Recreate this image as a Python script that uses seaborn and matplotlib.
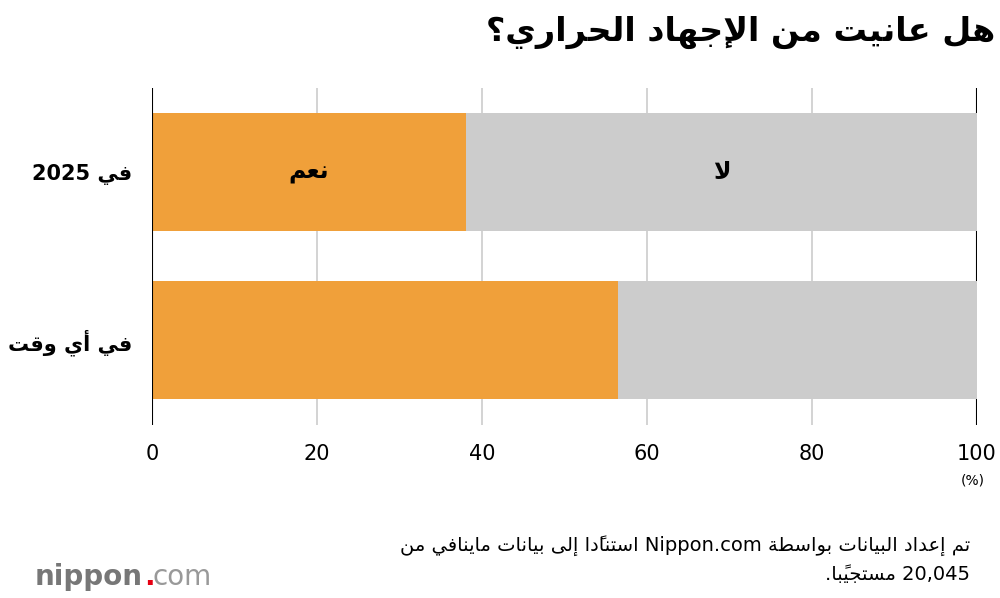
import re
import matplotlib
matplotlib.use("Agg")
import matplotlib.pyplot as plt
import seaborn as sns
import pandas as pd

# Data
categories = ["في 2025", "في أي وقت"]
yes_values = [38.1, 56.5]
title = "هل عانيت من الإجهاد الحراري؟"
yes_label = "نعم"
no_label = "لا"
note_lines = ["تم إعداد البيانات بواسطة Nippon.com استنادًا إلى بيانات ماينافي من",
              "20,045 مستجيبًا."]
xticks = [0, 20, 40, 60, 80, 100]

# --- minimal Arabic shaping + bidi (matplotlib has none) ---
FORMS = {  # isolated, final, initial, medial
    "ا": (0xFE8D, 0xFE8E, None, None), "أ": (0xFE83, 0xFE84, None, None),
    "إ": (0xFE87, 0xFE88, None, None), "آ": (0xFE81, 0xFE82, None, None),
    "ب": (0xFE8F, 0xFE90, 0xFE91, 0xFE92), "ة": (0xFE93, 0xFE94, None, None),
    "ت": (0xFE95, 0xFE96, 0xFE97, 0xFE98), "ج": (0xFE9D, 0xFE9E, 0xFE9F, 0xFEA0),
    "ح": (0xFEA1, 0xFEA2, 0xFEA3, 0xFEA4), "د": (0xFEA9, 0xFEAA, None, None),
    "ر": (0xFEAD, 0xFEAE, None, None), "س": (0xFEB1, 0xFEB2, 0xFEB3, 0xFEB4),
    "ط": (0xFEC1, 0xFEC2, 0xFEC3, 0xFEC4), "ع": (0xFEC9, 0xFECA, 0xFECB, 0xFECC),
    "ف": (0xFED1, 0xFED2, 0xFED3, 0xFED4), "ق": (0xFED5, 0xFED6, 0xFED7, 0xFED8),
    "ل": (0xFEDD, 0xFEDE, 0xFEDF, 0xFEE0), "م": (0xFEE1, 0xFEE2, 0xFEE3, 0xFEE4),
    "ن": (0xFEE5, 0xFEE6, 0xFEE7, 0xFEE8), "ه": (0xFEE9, 0xFEEA, 0xFEEB, 0xFEEC),
    "و": (0xFEED, 0xFEEE, None, None), "ى": (0xFEEF, 0xFEF0, 0xFBE8, 0xFBE9),
    "ي": (0xFEF1, 0xFEF2, 0xFEF3, 0xFEF4),
}
LAMALEF = {"ا": (0xFEFB, 0xFEFC), "أ": (0xFEF7, 0xFEF8),
           "إ": (0xFEF9, 0xFEFA), "آ": (0xFEF5, 0xFEF6)}
MARKS = set("\u064B\u064C\u064D\u064E\u064F\u0650\u0651\u0652")


def shape(s):
    letters = list(s)
    out = []
    i = 0
    n = len(letters)

    def prev_joins(idx):
        j = idx - 1
        while j >= 0 and letters[j] in MARKS:
            j -= 1
        return j >= 0 and letters[j] in FORMS and FORMS[letters[j]][2] is not None

    def next_letter(idx):
        j = idx + 1
        while j < n and letters[j] in MARKS:
            j += 1
        return letters[j] if j < n and letters[j] in FORMS else None

    while i < n:
        c = letters[i]
        if c not in FORMS:
            out.append(c)
            i += 1
            continue
        pj = prev_joins(i)
        if c == "ل" and i + 1 < n and letters[i + 1] in LAMALEF:
            iso, fin = LAMALEF[letters[i + 1]]
            out.append(chr(fin if pj else iso))
            i += 2
            continue
        nj = next_letter(i) is not None and FORMS[c][2] is not None
        iso, fin, ini, med = FORMS[c]
        if pj and nj:
            out.append(chr(med))
        elif pj:
            out.append(chr(fin))
        elif nj:
            out.append(chr(ini))
        else:
            out.append(chr(iso))
        i += 1
    return "".join(out)


def ar(s):
    s = shape(s)
    chunks = re.split(r"([A-Za-z0-9][A-Za-z0-9.,]*[A-Za-z0-9]|[A-Za-z0-9])", s)
    vis = []
    for k, ch in enumerate(chunks):
        if k % 2 == 1:
            vis.append(ch)
        else:
            clusters = []
            for c in ch:
                if c in MARKS and clusters:
                    clusters[-1] += c
                else:
                    clusters.append(c)
            vis.append("".join(reversed(clusters)))
    return "".join(reversed(vis))


sns.set_theme(style="white")
plt.rcParams["font.family"] = ["DejaVu Sans"]
plt.rcParams["text.color"] = "black"
plt.rcParams["xtick.color"] = "black"
plt.rcParams["ytick.color"] = "black"

df = pd.DataFrame({"cat": [ar(c) for c in categories], "yes": yes_values, "total": [100, 100]})

fig = plt.figure(figsize=(10, 5.98), dpi=100)
ax = fig.add_axes([0.152, 0.29, 0.825, 0.563])

sns.barplot(data=df, y="cat", x="total", color="#cccccc", saturation=1, width=0.7,
            linewidth=0, ax=ax, orient="h")
sns.barplot(data=df, y="cat", x="yes", color="#f0a03a", saturation=1, width=0.7,
            linewidth=0, ax=ax, orient="h")

for x in xticks[1:-1]:
    ax.axvline(x, color="#cccccc", lw=1.2, zorder=0)
ax.axvline(0, color="black", lw=1.5, zorder=3)
ax.axvline(100, color="black", lw=1.5, zorder=0)

ax.set_xlim(0, 100)
ax.set_xticks(xticks)
ax.set_xticklabels([str(t) for t in xticks], fontsize=15)
ax.tick_params(axis="x", length=0, pad=14)
ax.tick_params(axis="y", length=0, pad=14, labelsize=15)
for lbl in ax.get_yticklabels():
    lbl.set_fontweight("bold")
ax.set_xlabel("")
ax.set_ylabel("")
for sp in ax.spines.values():
    sp.set_visible(False)

ax.text(yes_values[0] / 2, 0, ar(yes_label), ha="center", va="center", fontsize=17, fontweight="bold")
ax.text((100 + yes_values[0]) / 2, 0, ar(no_label), ha="center", va="center", fontsize=17, fontweight="bold")

fig.text(0.985, 0.197, "(%)", ha="right", va="center", fontsize=10)
fig.text(0.995, 0.945, ar(title), ha="right", va="center", fontsize=24, fontweight="bold")
fig.text(0.97, 0.088, ar(note_lines[0]), ha="right", va="center", fontsize=14)
fig.text(0.97, 0.040, ar(note_lines[1]), ha="right", va="center", fontsize=14)
fig.text(0.035, 0.035, "nippon", ha="left", va="center", fontsize=20, color="#777777", fontweight="bold")
fig.text(0.144, 0.035, ".", ha="left", va="center", fontsize=20, color="#e60012", fontweight="bold")
fig.text(0.153, 0.035, "com", ha="left", va="center", fontsize=20, color="#999999")

fig.savefig("out.png", dpi=100)
